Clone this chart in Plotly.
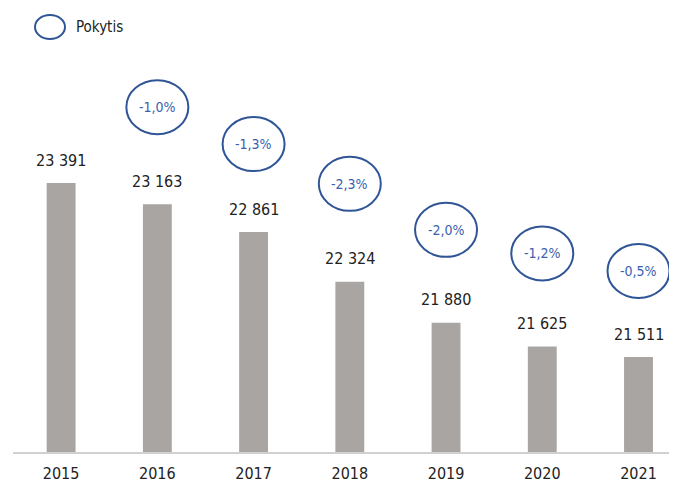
import plotly.graph_objects as go

years = ["2015", "2016", "2017", "2018", "2019", "2020", "2021"]
values = [23391, 23163, 22861, 22324, 21880, 21625, 21511]
changes = ["", "-1,0%", "-1,3%", "-2,3%", "-2,0%", "-1,2%", "-0,5%"]
legend_label = "Pokytis"

# pixel lift of each change bubble above its bar top (styling)
bubble_lift = [0, 97, 88, 98, 93, 93, 86]

FONT = "DejaVu Sans Condensed, Liberation Sans Narrow, Arial Narrow, sans-serif"
BLUE_LINE = "#2f5597"
BLUE_TEXT = "#3a5fb0"

fig = go.Figure()
fig.add_trace(go.Bar(
    x=years, y=values, width=0.3,
    marker=dict(color="#a8a5a3", line=dict(width=0)),
    showlegend=False, hoverinfo="x+y",
))

annotations = []
shapes = []
for i, (yr, v, c) in enumerate(zip(years, values, changes)):
    annotations.append(dict(
        x=i, y=v, xref="x", yref="y", text=f"{v:,}".replace(",", " "),
        showarrow=False, yshift=23, font=dict(family=FONT, size=16, color="#222222"),
    ))
    if c:
        lift = bubble_lift[i]
        shapes.append(dict(
            type="circle", xref="x", yref="y", xsizemode="pixel", ysizemode="pixel",
            xanchor=i, yanchor=v, x0=-31, x1=31, y0=lift - 27, y1=lift + 27,
            line=dict(color=BLUE_LINE, width=2), fillcolor="rgba(0,0,0,0)",
        ))
        annotations.append(dict(
            x=i, y=v, xref="x", yref="y", text=c, showarrow=False, yshift=lift,
            font=dict(family=FONT, size=14, color=BLUE_TEXT),
        ))

# legend marker
shapes.append(dict(
    type="circle", xref="paper", yref="paper", xsizemode="pixel", ysizemode="pixel",
    xanchor=0, yanchor=1, x0=22, x1=52, y0=1, y1=25,
    line=dict(color=BLUE_LINE, width=2), fillcolor="rgba(0,0,0,0)",
))
annotations.append(dict(
    x=0, y=1, xref="paper", yref="paper", xanchor="left", yanchor="middle",
    text=legend_label, showarrow=False, xshift=61, yshift=13,
    font=dict(family=FONT, size=15, color="#222222"),
))

fig.update_layout(
    width=669, height=487,
    margin=dict(l=5, r=0, t=32, b=43),
    paper_bgcolor="white", plot_bgcolor="white",
    shapes=shapes, annotations=annotations,
    xaxis=dict(
        type="category",
        range=[-0.5, 6.4], showgrid=False, showline=True, linecolor="#d0d0d0",
        linewidth=1.5, ticks="", tickfont=dict(family=FONT, size=16, color="#222222"),
        ticklabelstandoff=6,
    ),
    yaxis=dict(range=[20484, 24938], visible=False),
    bargap=0.7,
)

fig.write_html("out.html")
